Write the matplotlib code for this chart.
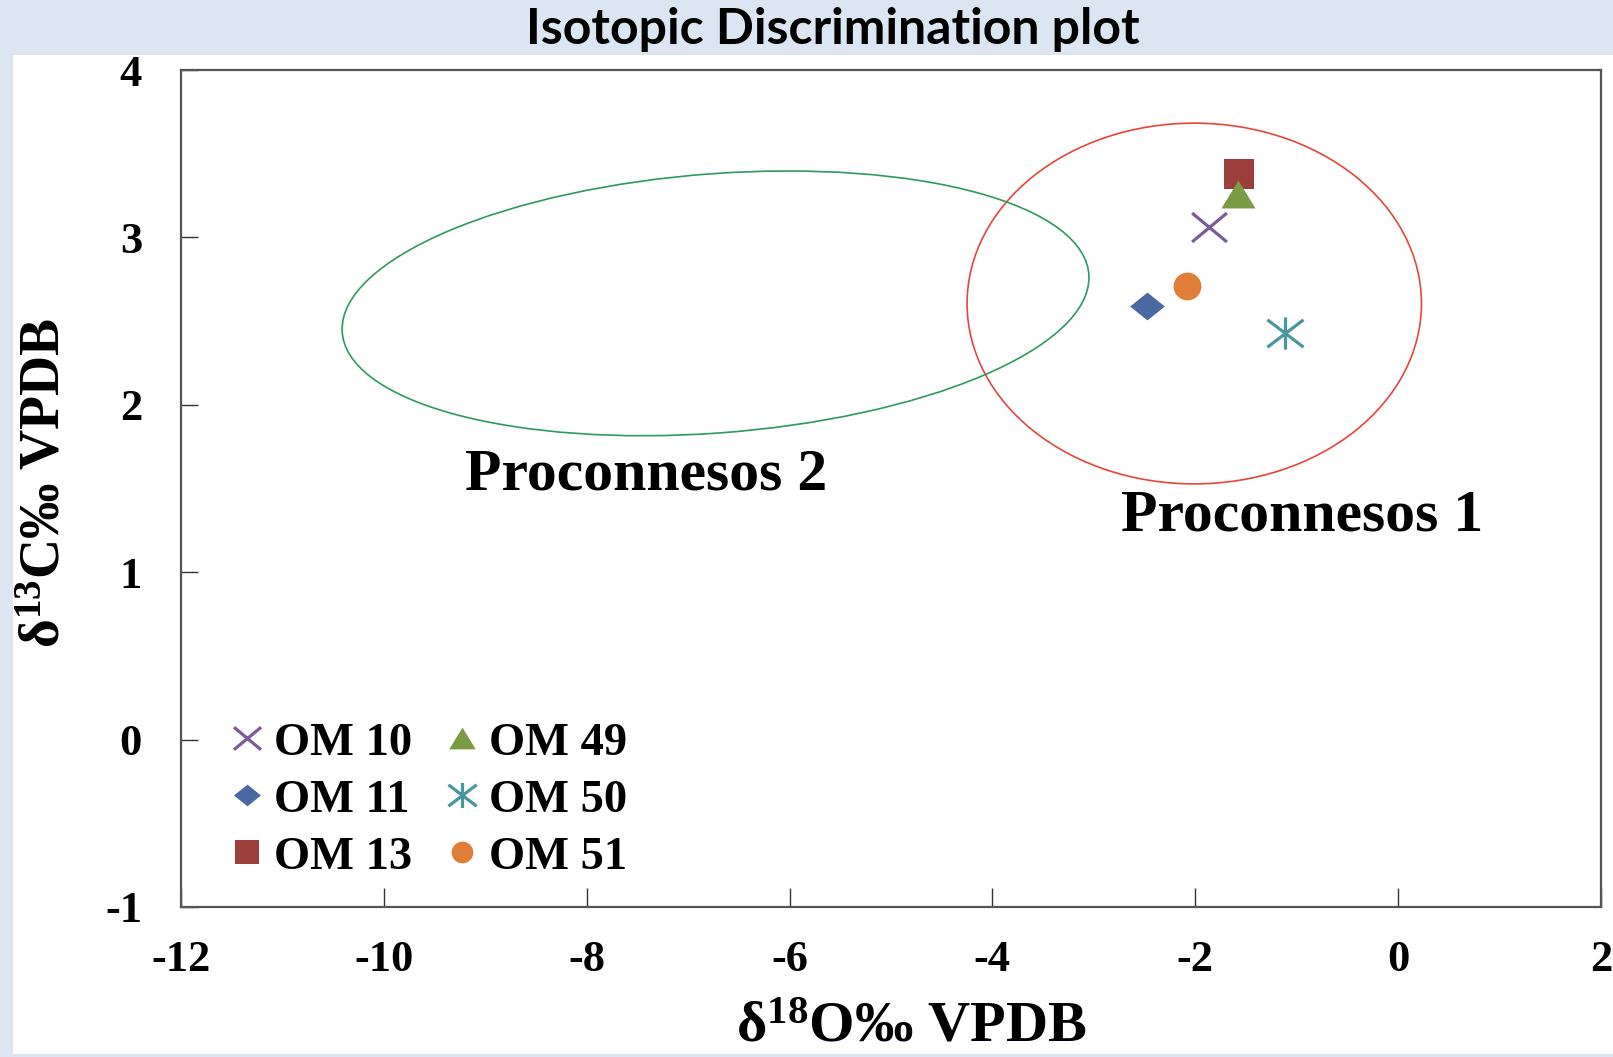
import numpy as np
import matplotlib.pyplot as plt
from matplotlib.patches import Ellipse, Rectangle
from matplotlib.path import Path
from matplotlib.markers import MarkerStyle

plt.rcParams['font.family'] = ['Liberation Serif', 'DejaVu Serif']
plt.rcParams['font.weight'] = 'bold'
plt.rcParams['axes.unicode_minus'] = False
plt.rcParams['mathtext.fontset'] = 'custom'
plt.rcParams['mathtext.rm'] = 'Liberation Serif:bold'
plt.rcParams['mathtext.it'] = 'Liberation Serif:bold'
plt.rcParams['mathtext.bf'] = 'Liberation Serif:bold'

# sample data (delta 18O, delta 13C)
samples = ['OM 10', 'OM 11', 'OM 13', 'OM 49', 'OM 50', 'OM 51']
d18O = [-1.86, -2.48, -1.57, -1.58, -1.12, -2.08]
d13C = [3.06, 2.59, 3.38, 3.26, 2.43, 2.71]
colors = ['#7b5c98', '#4a68a2', '#9c3f3c', '#7a9a43', '#48979f', '#e07d38']

# quarry fields: centre x, centre y, width, height, angle
field_names = ['Proconnesos 1', 'Proconnesos 2']
field_centre = [(-2.01, 2.605), (-6.73, 2.606)]
field_size = [(4.48, 2.155), (7.37, 1.55)]
field_angle = [0, 2.5]
field_colors = ['#e8453a', '#2e9a5c']
label_pos = [(-0.945, 1.33), (-7.41, 1.575)]

x_ticks = [-12, -10, -8, -6, -4, -2, 0, 2]
y_ticks = [-1, 0, 1, 2, 3, 4]

# marker shapes
cross = Path([(-1, -0.83), (1, 0.83), (-1, 0.83), (1, -0.83)],
             [Path.MOVETO, Path.LINETO, Path.MOVETO, Path.LINETO])
star6 = Path([(0, -0.89), (0, 0.89), (-1, -0.76), (1, 0.76), (-1, 0.76), (1, -0.76)],
             [Path.MOVETO, Path.LINETO, Path.MOVETO, Path.LINETO, Path.MOVETO, Path.LINETO])
diamond = [(0, 0.8), (1, 0), (0, -0.8), (-1, 0), (0, 0.8)]
triangle = [(0, 0.82), (-1, -0.82), (1, -0.82), (0, 0.82)]
markers = [cross, diamond, 's', triangle, star6, 'o']
sizes = [25, 25, 22, 24.5, 26, 20]
open_marker = [True, False, False, False, True, False]

fig = plt.figure(figsize=(16.13, 10.57), dpi=100)
fig.patch.set_facecolor('#dce6f2')
fig.add_artist(Rectangle((13 / 1613, 3 / 1057), 1600 / 1613, 999 / 1057,
                         transform=fig.transFigure, facecolor='white', edgecolor='none', zorder=0))

ax = fig.add_axes([181 / 1613, 1 - 907 / 1057, 1420 / 1613, 837 / 1057])
ax.set_xlim(-12, 2)
ax.set_ylim(-1, 4)

for c, s, a, col in zip(field_centre, field_size, field_angle, field_colors):
    ax.add_patch(Ellipse(c, s[0], s[1], angle=a, fill=False, edgecolor=col, linewidth=1.2))

for name, (tx, ty) in zip(field_names, label_pos):
    ax.text(tx, ty, name, fontsize=43, fontweight='bold', ha='center', va='center')

for i in range(len(samples)):
    if open_marker[i]:
        ax.plot(d18O[i], d13C[i], linestyle='none', marker=MarkerStyle(markers[i]),
                markersize=sizes[i], markerfacecolor='none', markeredgecolor=colors[i],
                markeredgewidth=2.3, label=samples[i])
    else:
        ax.plot(d18O[i], d13C[i], linestyle='none', marker=markers[i],
                markersize=sizes[i], color=colors[i], markeredgewidth=0, label=samples[i])

ax.legend(ncol=2, frameon=False, loc='lower left', bbox_to_anchor=(0.004, -0.016),
          prop={'family': 'Liberation Serif', 'weight': 'bold', 'size': 33.5},
          markerscale=0.78, handlelength=0.8, handletextpad=0.18,
          columnspacing=0.67, labelspacing=0.31)

ax.set_xticks(x_ticks)
ax.set_yticks(y_ticks)
ax.tick_params(axis='x', direction='in', length=14, width=1, color='#333333',
               pad=24, labelsize=32)
ax.tick_params(axis='y', direction='in', length=12, width=1, color='#333333',
               pad=28, labelsize=32)
for sp in ax.spines.values():
    sp.set_color('#555555')
    sp.set_linewidth(1.6)

fig.text(911 / 1613, 15 / 1057, 'δ$^{18}$O‰ VPDB', fontsize=42,
         fontweight='bold', ha='center', va='baseline')
fig.text(46 / 1613, 1 - 483 / 1057, 'δ$^{13}$C‰ VPDB', fontsize=40,
         fontweight='bold', ha='center', va='center', rotation=90)

fig.text(833 / 1613, 1 - 44 / 1057, 'Isotopic Discrimination plot', fontsize=36,
         fontweight='bold', family='Lato', ha='center', va='baseline')

fig.savefig('out.png', dpi=100, facecolor=fig.get_facecolor())
